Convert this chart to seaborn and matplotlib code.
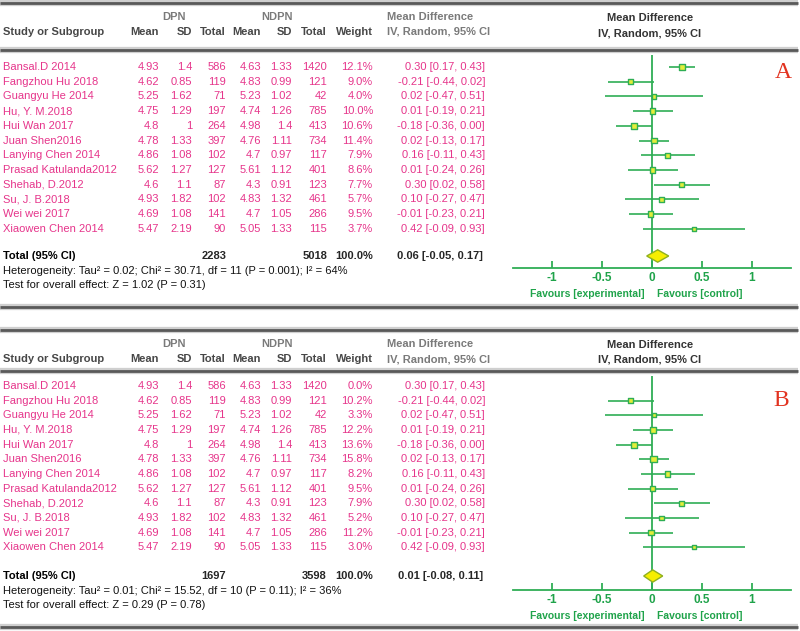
import matplotlib
matplotlib.use('Agg')
import matplotlib.pyplot as plt
import numpy as np
import pandas as pd
import seaborn as sns

# ---- data ----
studies = ['Bansal.D 2014', 'Fangzhou Hu 2018', 'Guangyu He 2014', 'Hu, Y. M.2018',
           'Hui Wan 2017', 'Juan Shen2016', 'Lanying Chen 2014', 'Prasad Katulanda2012',
           'Shehab, D.2012', 'Su, J. B.2018', 'Wei wei 2017', 'Xiaowen Chen 2014']
dpn_mean = [4.93, 4.62, 5.25, 4.75, 4.8, 4.78, 4.86, 5.62, 4.6, 4.93, 4.69, 5.47]
dpn_sd = [1.4, 0.85, 1.62, 1.29, 1, 1.33, 1.08, 1.27, 1.1, 1.82, 1.08, 2.19]
dpn_total = [586, 119, 71, 197, 264, 397, 102, 127, 87, 102, 141, 90]
ndpn_mean = [4.63, 4.83, 5.23, 4.74, 4.98, 4.76, 4.7, 5.61, 4.3, 4.83, 4.7, 5.05]
ndpn_sd = [1.33, 0.99, 1.02, 1.26, 1.4, 1.11, 0.97, 1.12, 0.91, 1.32, 1.05, 1.33]
ndpn_total = [1420, 121, 42, 785, 413, 734, 117, 401, 123, 461, 286, 115]
md = [0.30, -0.21, 0.02, 0.01, -0.18, 0.02, 0.16, 0.01, 0.30, 0.10, -0.01, 0.42]
ci_lo = [0.17, -0.44, -0.47, -0.19, -0.36, -0.13, -0.11, -0.24, 0.02, -0.27, -0.23, -0.09]
ci_hi = [0.43, 0.02, 0.51, 0.21, 0.00, 0.17, 0.43, 0.26, 0.58, 0.47, 0.21, 0.93]
weight_a = [12.1, 9.0, 4.0, 10.0, 10.6, 11.4, 7.9, 8.6, 7.7, 5.7, 9.5, 3.7]
weight_b = [0.0, 10.2, 3.3, 12.2, 13.6, 15.8, 8.2, 9.5, 7.9, 5.2, 11.2, 3.0]

totals_a = [2283, 5018]
totals_b = [1697, 3598]
overall_a = [0.06, -0.05, 0.17]
overall_b = [0.01, -0.08, 0.11]
hetero_a = 'Heterogeneity: Tau² = 0.02; Chi² = 30.71, df = 11 (P = 0.001); I² = 64%'
hetero_b = 'Heterogeneity: Tau² = 0.01; Chi² = 15.52, df = 10 (P = 0.11); I² = 36%'
test_a = 'Test for overall effect: Z = 1.02 (P = 0.31)'
test_b = 'Test for overall effect: Z = 0.29 (P = 0.78)'
x_ticks = [-1, -0.5, 0, 0.5, 1]
tick_labels = ['-1', '-0.5', '0', '0.5', '1']

# ---- style ----
PINK = '#e6358b'
GREEN = '#2fae55'
TGREEN = '#1fa34a'
HEAD = '#474747'
GROUP = '#7a7a7a'
W, H = 800, 631

sns.set_theme(style='white')
plt.rcParams['font.family'] = ['Liberation Sans', 'DejaVu Sans']

fig = plt.figure(figsize=(8, 6.31), dpi=100)
bg = fig.add_axes([0, 0, 1, 1])
bg.set_xlim(0, W)
bg.set_ylim(H, 0)
bg.axis('off')


def box(x0, x1, y0, y1):
    return [x0 / W, 1 - y1 / H, (x1 - x0) / W, (y1 - y0) / H]


def rule(y):
    bg.plot([0, W - 2], [y, y], color='#cfcfcf', lw=4.5, solid_capstyle='butt', zorder=1)
    bg.plot([0, W - 2], [y, y], color='#595959', lw=2.0, solid_capstyle='butt', zorder=2)


# column right edges (pixels)
cols = [159, 192, 226, 261, 292, 327, 373]
CI_X = 485


def fmt(v):
    return f'{v:g}'


def panel(lay, weights, totals, overall, hetero, test, letter):
    for y in (lay['top'], lay['sep'], lay['bottom']):
        rule(y)
    gy, cy = lay['group_y'], lay['col_y']
    bg.text(174, gy, 'DPN', color=GROUP, fontsize=8, fontweight='bold', ha='center', va='center')
    bg.text(277, gy, 'NDPN', color=GROUP, fontsize=8, fontweight='bold', ha='center', va='center')
    bg.text(387, gy, 'Mean Difference', color=GROUP, fontsize=8, fontweight='bold', va='center')
    bg.text(387, cy, 'IV, Random, 95% CI', color=GROUP, fontsize=8, fontweight='bold', va='center')
    bg.text(3, cy, 'Study or Subgroup', color=HEAD, fontsize=8, fontweight='bold', va='center')
    for x, lab in zip(cols, ['Mean', 'SD', 'Total', 'Mean', 'SD', 'Total', 'Weight']):
        bg.text(x, cy, lab, color=HEAD, fontsize=8, fontweight='bold', ha='right', va='center')
    bg.text(650, gy + 1, 'Mean Difference', color='#333333', fontsize=8, fontweight='bold',
            ha='center', va='center')
    bg.text(650, cy + 1, 'IV, Random, 95% CI', color='#333333', fontsize=8, fontweight='bold',
            ha='center', va='center')

    y0, dy = lay['y0'], lay['dy']
    for i, name in enumerate(studies):
        y = y0 + dy * i
        bg.text(3, y, name, color=PINK, fontsize=8, va='center')
        vals = [fmt(dpn_mean[i]), fmt(dpn_sd[i]), str(dpn_total[i]), fmt(ndpn_mean[i]),
                fmt(ndpn_sd[i]), str(ndpn_total[i]), f'{weights[i]:.1f}%']
        for x, v in zip(cols, vals):
            bg.text(x, y, v, color=PINK, fontsize=8, ha='right', va='center')
        bg.text(CI_X, y, f'{md[i]:.2f} [{ci_lo[i]:.2f}, {ci_hi[i]:.2f}]', color=PINK,
                fontsize=8, ha='right', va='center')

    ty = lay['total_y']
    bg.text(3, ty, 'Total (95% CI)', color='black', fontsize=8, fontweight='bold', va='center')
    bg.text(cols[2], ty, str(totals[0]), fontsize=8, fontweight='bold', ha='right', va='center')
    bg.text(cols[5], ty, str(totals[1]), fontsize=8, fontweight='bold', ha='right', va='center')
    bg.text(cols[6], ty, '100.0%', fontsize=8, fontweight='bold', ha='right', va='center')
    bg.text(CI_X - 2, ty, f'{overall[0]:.2f} [{overall[1]:.2f}, {overall[2]:.2f}]',
            fontsize=8, fontweight='bold', ha='right', va='center')
    bg.text(3, ty + 15, hetero, color='#111111', fontsize=8, va='center')
    bg.text(3, ty + 29, test, color='#111111', fontsize=8, va='center')

    bg.text(lay['letter_x'], lay['letter_y'], letter, color='#e2321f', fontsize=17,
            family='Liberation Serif', ha='center', va='center')

    # ---- forest plot ----
    top_px, bot_px = lay['sep'] + 2, lay['axis_y'] + 30
    ax = fig.add_axes(box(513, 791, top_px, bot_px))
    ax.set_facecolor('none')
    ax.set_xlim((513 - 651.7) / 100, (791 - 651.7) / 100)
    ax.set_ylim((bot_px - y0) / dy, (top_px - y0) / dy)
    r_total = (ty - y0) / dy
    r_axis = (lay['axis_y'] - y0) / dy
    r_zero = (lay['sep'] + 5 - y0) / dy

    df = pd.DataFrame({'row': np.arange(len(studies)), 'md': md, 'lo': ci_lo,
                       'hi': ci_hi, 'w': weights})
    df = df[df['w'] > 0]
    ax.vlines(0, r_zero, r_axis, color=GREEN, lw=1.3, zorder=1)
    ax.hlines(df['row'], df['lo'], df['hi'], color=GREEN, lw=1.2, zorder=2)
    sns.scatterplot(data=df, x='md', y='row', size='w', sizes=(9, 22), size_norm=(3, 16),
                    marker='s', color='#e3ee3a', edgecolor=GREEN, linewidth=1.0,
                    legend=False, ax=ax, zorder=3)
    est, lo, hi = overall
    h = 0.42
    ax.fill([lo, est, hi, est], [r_total, r_total - h, r_total, r_total + h],
            facecolor='#f6ee00', edgecolor='#8fb020', lw=1.0, zorder=3)

    for s in ('top', 'left', 'right'):
        ax.spines[s].set_visible(False)
    ax.spines['bottom'].set_position(('data', r_axis))
    ax.spines['bottom'].set_color(GREEN)
    ax.spines['bottom'].set_linewidth(1.3)
    ax.set_yticks([])
    ax.set_xticks(x_ticks)
    ax.set_xticklabels(tick_labels, fontsize=8.5, fontweight='bold', color=TGREEN)
    ax.tick_params(axis='x', direction='in', length=5, width=1.3, color=GREEN, pad=3,
                   bottom=True)
    ax.set_xlabel('')
    ax.set_ylabel('')
    fy = lay['axis_y'] + 26
    bg.text(645, fy, 'Favours [experimental]', color=TGREEN, fontsize=7.5,
            fontweight='bold', ha='right', va='center')
    bg.text(657, fy, 'Favours [control]', color=TGREEN, fontsize=7.5,
            fontweight='bold', ha='left', va='center')


layout_a = dict(top=3, sep=50, bottom=307, group_y=17, col_y=32, y0=67, dy=14.72,
                total_y=256, axis_y=268, letter_x=783, letter_y=72)
layout_b = dict(top=330, sep=371, bottom=627, group_y=344, col_y=359, y0=386, dy=14.65,
                total_y=576, axis_y=590, letter_x=781, letter_y=400)

panel(layout_a, weight_a, totals_a, overall_a, hetero_a, test_a, 'A')
panel(layout_b, weight_b, totals_b, overall_b, hetero_b, test_b, 'B')

fig.savefig('out.png', dpi=100)
